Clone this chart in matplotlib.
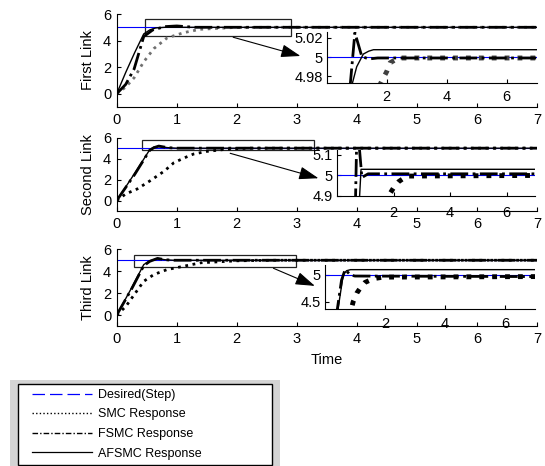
import matplotlib
matplotlib.use("Agg")
import matplotlib.pyplot as plt
from matplotlib.patches import Rectangle
from matplotlib.lines import Line2D

plt.rcParams['font.family'] = ['Liberation Sans', 'DejaVu Sans']

W, H = 545, 466

# ---- data ----
link_names = ["First Link", "Second Link", "Third Link"]
desired = 5.0

# first link, main axes
t_afsmc1 = [0, 0.15, 0.3, 0.45, 0.55, 0.65, 0.8, 1.0, 7]
afsmc1 = [0, 1.6, 3.1, 4.5, 4.8, 4.95, 5.0, 5.0, 5.0]
t_fsmc1 = [0, 0.15, 0.29, 0.45, 0.6, 0.8, 1.0, 1.3, 7]
fsmc1 = [0, 0.7, 1.86, 4.3, 4.8, 5.05, 5.1, 5.0, 5.0]
t_smc1 = [0, 0.15, 0.29, 0.45, 0.62, 0.84, 1.12, 1.39, 1.94, 2.5, 7]
smc1 = [0, 0.5, 1.2, 2.4, 3.4, 4.2, 4.6, 4.85, 4.98, 5.0, 5.0]

# second link, main axes
t_afsmc2 = [0, 0.3, 0.55, 0.62, 0.7, 0.85, 1.0, 7]
afsmc2 = [0, 2.6, 4.85, 5.1, 5.15, 5.05, 5.0, 5.0]
t_fsmc2 = [0, 0.3, 0.55, 0.62, 0.7, 0.85, 1.0, 7]
fsmc2 = [0, 2.5, 4.8, 5.05, 5.2, 5.05, 5.0, 5.0]
t_smc2 = [0, 0.15, 0.34, 0.56, 0.79, 0.95, 1.12, 1.28, 1.5, 1.83, 2.2, 7]
smc2 = [0, 0.63, 1.1, 1.9, 2.8, 3.6, 4.06, 4.44, 4.69, 4.9, 5.0, 5.0]

# third link, main axes
t_afsmc3 = [0, 0.25, 0.45, 0.55, 0.68, 0.8, 0.95, 7]
afsmc3 = [0, 2.5, 4.6, 4.95, 5.15, 5.05, 5.0, 5.0]
t_fsmc3 = [0, 0.25, 0.45, 0.55, 0.68, 0.8, 0.95, 7]
fsmc3 = [0, 2.4, 4.5, 4.9, 5.17, 5.05, 5.0, 5.0]
t_smc3 = [0, 0.15, 0.29, 0.45, 0.62, 0.84, 1.12, 1.4, 2.0, 2.6, 7]
smc3 = [0, 0.77, 1.85, 3.08, 3.7, 4.15, 4.46, 4.77, 4.95, 5.0, 5.0]

# zoomed insets
zt_afsmc1 = [0.83, 1.0, 1.22, 1.4, 1.56, 7]
zafsmc1 = [4.97, 4.99, 5.003, 5.006, 5.0075, 5.0075]
zt_fsmc1 = [0.78, 0.94, 1.17, 1.4, 1.7, 2.0, 7]
zfsmc1 = [4.97, 5.025, 5.0006, 4.998, 4.999, 4.999, 4.999]
zt_smc1 = [1.75, 1.83, 2.0, 2.11, 2.39, 2.7, 7]
zsmc1 = [4.97, 4.975, 4.985, 4.994, 4.999, 4.999, 4.999]

zt_afsmc2 = [0.78, 0.85, 1.0, 7]
zafsmc2 = [4.85, 5.03, 5.03, 5.03]
zt_fsmc2 = [0.65, 0.7, 0.75, 0.88, 1.1, 7]
zfsmc2 = [4.85, 5.2, 5.2, 4.99, 5.008, 5.008]
zt_smc2 = [1.71, 1.82, 2.0, 2.18, 2.47, 7]
zsmc2 = [4.86, 4.9, 4.94, 4.97, 4.997, 5.0]

zt_afsmc3 = [0.39, 0.61, 0.72, 0.85, 7]
zafsmc3 = [4.2, 5.01, 5.08, 5.1, 5.1]
zt_fsmc3 = [0.37, 0.55, 0.67, 0.85, 1.0, 7]
zfsmc3 = [4.2, 4.9, 5.1, 5.0, 4.98, 4.97]
zt_smc3 = [0.8, 0.94, 1.06, 1.18, 1.33, 1.61, 1.94, 7]
zsmc3 = [4.2, 4.5, 4.66, 4.76, 4.86, 4.93, 4.96, 4.97]

main_data = [
    (t_smc1, smc1, t_fsmc1, fsmc1, t_afsmc1, afsmc1),
    (t_smc2, smc2, t_fsmc2, fsmc2, t_afsmc2, afsmc2),
    (t_smc3, smc3, t_fsmc3, fsmc3, t_afsmc3, afsmc3),
]
zoom_data = [
    (zt_smc1, zsmc1, zt_fsmc1, zfsmc1, zt_afsmc1, zafsmc1),
    (zt_smc2, zsmc2, zt_fsmc2, zfsmc2, zt_afsmc2, zafsmc2),
    (zt_smc3, zsmc3, zt_fsmc3, zfsmc3, zt_afsmc3, zafsmc3),
]
zoom_ylim = [(4.973, 5.026), (4.9, 5.124), (4.363, 5.187)]
zoom_yticks = [[4.98, 5, 5.02], [4.9, 5, 5.1], [4.5, 5]]
zoom_ylabels = [["4.98", "5", "5.02"], ["4.9", "5", "5.1"], ["4.5", "5"]]
# zoom box (x0, y0, w, h) and arrow (start, tip) in data units
boxes = [(0.47, 4.35, 2.44, 1.25), (0.42, 4.83, 2.86, 0.95), (0.28, 4.42, 2.71, 1.06)]
arrows = [((1.94, 4.25), (3.06, 2.84)), ((1.89, 4.51), (3.36, 2.13)), ((2.61, 4.27), (3.3, 2.66))]

# ---- layout, in pixels (left, top, right, bottom) ----
main_px = [(116.7, 14, 537, 107), (116.7, 137.7, 537, 211), (116.7, 249.3, 537, 326)]
zoom_px = [(326.7, 31.7, 536.7, 83.3), (337, 150, 535, 196), (325, 265, 535, 309)]
zoom_pad = [5, 7.5, 5.5]


def px_rect(l, t, r, b):
    return [l / W, 1 - b / H, (r - l) / W, (b - t) / H]


fig = plt.figure(figsize=(W / 100, H / 100), dpi=100)

for i in range(3):
    ts, s, tf, f, ta, a = main_data[i]
    ax = fig.add_axes(px_rect(*main_px[i]))
    ax.plot([0, 7], [desired, desired], color='b', lw=0.8)
    smc_col = '#707070' if i == 0 else 'k'
    ax.plot(ts, s, color=smc_col, ls=':', lw=2)
    ax.plot(tf, f, color='k', ls='-.', lw=2)
    ax.plot(ta, a, color='k', ls='-', lw=1)
    ax.set_xlim(0, 7)
    ax.set_ylim(-1, 6)
    ax.set_xticks(range(8))
    ax.set_yticks([0, 2, 4, 6])
    ax.tick_params(direction='in', length=3, width=0.8, labelsize=10.5, pad=4)
    for sp in ['top', 'right']:
        ax.spines[sp].set_visible(False)
    ax.set_ylabel(link_names[i], fontsize=10.5, labelpad=6)
    if i == 2:
        ax.set_xlabel("Time", fontsize=10.5, labelpad=5)

    x0, y0, bw, bh = boxes[i]
    ax.add_patch(Rectangle((x0, y0), bw, bh, fill=False, ec='#222222', lw=0.9))
    st, tip = arrows[i]
    ax.annotate('', xy=tip, xytext=st,
                arrowprops=dict(arrowstyle='-|>,head_length=0.6,head_width=0.2',
                                color='k', lw=0.8, mutation_scale=20,
                                shrinkA=0, shrinkB=0))

    # zoomed view
    zts, zs, ztf, zf, zta, za = zoom_data[i]
    axz = fig.add_axes(px_rect(*zoom_px[i]))
    axz.patch.set_alpha(0)
    axz.plot([0, 7], [desired, desired], color='b', lw=0.8)
    axz.plot(zts, zs, color='#404040' if i == 0 else 'k', ls=':', lw=3.5)
    axz.plot(ztf, zf, color='k', ls='-.', lw=2)
    axz.plot(zta, za, color='k', ls='-', lw=1)
    axz.set_xlim(0, 7)
    axz.set_ylim(*zoom_ylim[i])
    axz.set_xticks([2, 4, 6])
    axz.set_yticks(zoom_yticks[i])
    axz.set_yticklabels(zoom_ylabels[i])
    axz.tick_params(direction='in', length=3, width=0.8, labelsize=10.5)
    axz.tick_params(axis='x', pad=zoom_pad[i])
    axz.tick_params(axis='y', pad=3)
    for sp in ['top', 'right']:
        axz.spines[sp].set_visible(False)

# ---- legend panel ----
axl = fig.add_axes(px_rect(10, 380, 280, 466))
axl.set_facecolor('#d4d4d4')
axl.set_xticks([])
axl.set_yticks([])
for sp in axl.spines.values():
    sp.set_visible(False)
axl.set_xlim(0, 1)
axl.set_ylim(0, 1)
axl.add_patch(Rectangle(((18 - 10) / 270, (466 - 465) / 86), 254 / 270, 81 / 86,
                        fc='white', ec='k', lw=1))

labels = ["Desired(Step)", "SMC Response", "FSMC Response", "AFSMC Response"]
handles = [
    Line2D([], [], color='b', lw=0.9, dashes=(10, 4)),
    Line2D([], [], color='k', lw=1, dashes=(1, 1.6)),
    Line2D([], [], color='k', lw=1, dashes=(4, 1.5, 1, 1.5)),
    Line2D([], [], color='k', lw=0.9),
]
axl.legend(handles, labels, loc='upper left',
           bbox_to_anchor=((32 - 10) / 270, (466 - 389) / 86),
           frameon=False, fontsize=9, handlelength=4.8, handletextpad=0.48,
           labelspacing=0.6, borderpad=0, borderaxespad=0)

fig.savefig("out.png", dpi=100)
